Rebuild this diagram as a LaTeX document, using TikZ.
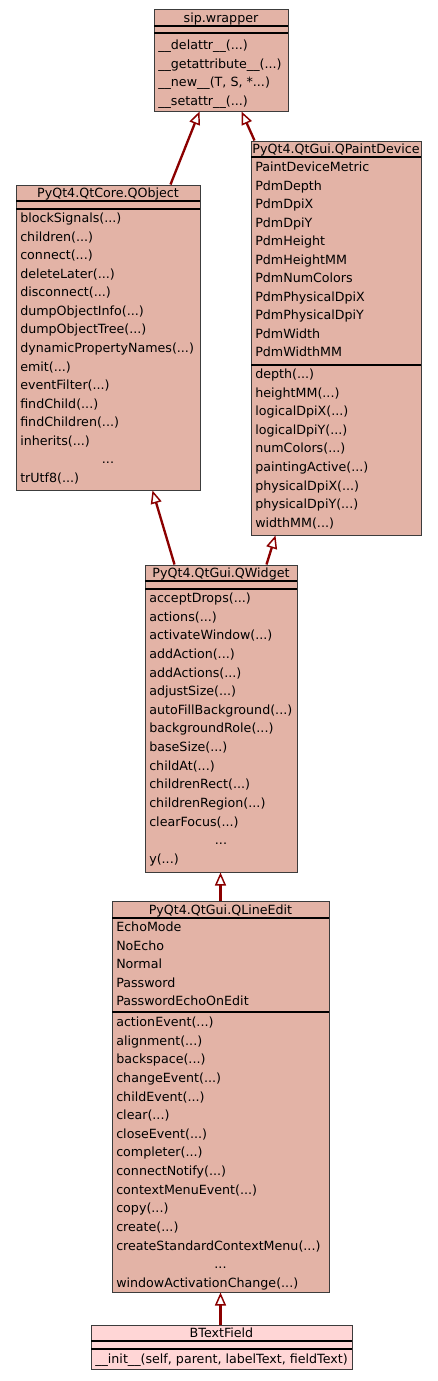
\documentclass[tikz,border=0pt]{standalone}
\usepackage{fontspec}
\setmainfont{DejaVu Sans}
\usetikzlibrary{arrows.meta,fit,calc}
\definecolor{boxfill}{RGB}{227,179,166}
\definecolor{leaffill}{RGB}{255,214,214}
\definecolor{boxline}{RGB}{60,60,60}
\definecolor{inhred}{RGB}{139,0,0}
\newcommand\ddd{...}
\tikzset{
  cls/.style={draw=boxline, fill=boxfill, line width=0.75pt, inner sep=0pt, rectangle},
  leaf/.style={cls, fill=leaffill},
  sepline/.style={draw=black, line width=1.5pt},
  mem/.style={anchor=base west, inner sep=0pt, font=\fontsize{9.5pt}{11pt}\selectfont},
  ttl/.style={anchor=base, inner sep=0pt, font=\fontsize{9.5pt}{11pt}\selectfont},
  inh/.style={draw=inhred, line width=1.75pt, -{Triangle[length=9.75pt,width=8.25pt,fill=white,line width=1.1pt]}},
}
\newcommand\memrows[5]{% name, x, first centre y, step, list
  \foreach \t [count=\i from 0] in {#5} {\node[mem] (#1-\i) at (#2, #3+\i*#4+4.5) {\t};}}
\begin{document}
\begin{tikzpicture}[x=0.75pt,y=-0.75pt]
\useasboundingbox (0,0) rectangle (437,1381);

% ---- sip.wrapper
\node[cls, fit={(154,9)(288,111)}] (sip) {};
\node[ttl] (sip-t) at (221,22) {sip.wrapper};
\draw[sepline] (154,26) -- (288,26);
\draw[sepline] (154,33) -- (288,33);
\memrows{sipm}{158}{45}{18.6}{\_\_delattr\_\_(\ddd), \_\_getattribute\_\_(\ddd), {\_\_new\_\_(T, S, *\ddd)}, \_\_setattr\_\_(\ddd)}

% ---- QObject
\node[cls, fit={(16,185)(200,490)}] (qobj) {};
\node[ttl] (qobj-t) at (108,197.5) {PyQt4.QtCore.QObject};
\draw[sepline] (16,201) -- (200,201);
\draw[sepline] (16,209) -- (200,209);
\memrows{qobjm}{20}{218}{18.57}{blockSignals(\ddd), children(\ddd), connect(\ddd), deleteLater(\ddd), disconnect(\ddd), dumpObjectInfo(\ddd), dumpObjectTree(\ddd), dynamicPropertyNames(\ddd), emit(\ddd), eventFilter(\ddd), findChild(\ddd), findChildren(\ddd), inherits(\ddd)}
\node[ttl] (qobj-dots) at (108,463.9) {...};
\memrows{qobjz}{20}{478}{0}{trUtf8(\ddd)}

% ---- QPaintDevice
\node[cls, fit={(251,141)(421,535)}] (qpd) {};
\node[ttl] (qpd-t) at (336,153.5) {PyQt4.QtGui.QPaintDevice};
\draw[sepline] (251,157) -- (421,157);
\draw[sepline] (251,365) -- (421,365);
\memrows{qpda}{255}{167}{18.5}{PaintDeviceMetric, PdmDepth, PdmDpiX, PdmDpiY, PdmHeight, PdmHeightMM, PdmNumColors, PdmPhysicalDpiX, PdmPhysicalDpiY, PdmWidth, PdmWidthMM}
\memrows{qpdm}{255}{374}{18.6}{depth(\ddd), heightMM(\ddd), logicalDpiX(\ddd), logicalDpiY(\ddd), numColors(\ddd), paintingActive(\ddd), physicalDpiX(\ddd), physicalDpiY(\ddd), widthMM(\ddd)}

% ---- QWidget
\node[cls, fit={(145,565)(297,872)}] (qw) {};
\node[ttl] (qw-t) at (221,577.5) {PyQt4.QtGui.QWidget};
\draw[sepline] (145,581) -- (297,581);
\draw[sepline] (145,589) -- (297,589);
\memrows{qwm}{149}{598}{18.64}{acceptDrops(\ddd), actions(\ddd), activateWindow(\ddd), addAction(\ddd), addActions(\ddd), adjustSize(\ddd), autoFillBackground(\ddd), backgroundRole(\ddd), baseSize(\ddd), childAt(\ddd), childrenRect(\ddd), childrenRegion(\ddd), clearFocus(\ddd)}
\node[ttl] (qw-dots) at (221,844.8) {...};
\memrows{qwz}{149}{859}{0}{y(\ddd)}

% ---- QLineEdit
\node[cls, fit={(112,901)(329,1292)}] (qle) {};
\node[ttl] (qle-t) at (220.5,914) {PyQt4.QtGui.QLineEdit};
\draw[sepline] (112,918) -- (329,918);
\draw[sepline] (112,1012) -- (329,1012);
\memrows{qlea}{116}{927}{18.5}{EchoMode, NoEcho, Normal, Password, PasswordEchoOnEdit}
\memrows{qlem}{116}{1022}{18.64}{actionEvent(\ddd), alignment(\ddd), backspace(\ddd), changeEvent(\ddd), childEvent(\ddd), clear(\ddd), closeEvent(\ddd), completer(\ddd), connectNotify(\ddd), contextMenuEvent(\ddd), copy(\ddd), create(\ddd), createStandardContextMenu(\ddd)}
\node[ttl] (qle-dots) at (220.5,1268.8) {...};
\memrows{qlez}{116}{1283}{0}{windowActivationChange(\ddd)}

% ---- BTextField
\node[leaf, fit={(91,1325)(352,1369)}] (btf) {};
\node[ttl] (btf-t) at (221.5,1337.5) {BTextField};
\draw[sepline] (91,1341) -- (352,1341);
\draw[sepline] (91,1349) -- (352,1349);
\memrows{btfm}{95}{1359}{0}{{\_\_init\_\_(self, parent, labelText, fieldText)}}

% ---- inheritance connectors
\draw[inh] ($(qobj.north west)+(155,0)$) -- ($(sip.south west)+(46,0)$);
\draw[inh] ($(qpd.north west)+(4,0)$) -- ($(sip.south west)+(88,0)$);
\draw[inh] ($(qw.north west)+(30,0)$) -- ($(qobj.south west)+(137,0)$);
\draw[inh] ($(qw.north west)+(122,0)$) -- ($(qpd.south west)+(25,0)$);
\draw[inh] ($(qle.north west)+(109,0)$) -- ($(qw.south west)+(76,0)$);
\draw[inh] ($(btf.north west)+(130,0)$) -- ($(qle.south west)+(109,0)$);
\end{tikzpicture}
\end{document}
